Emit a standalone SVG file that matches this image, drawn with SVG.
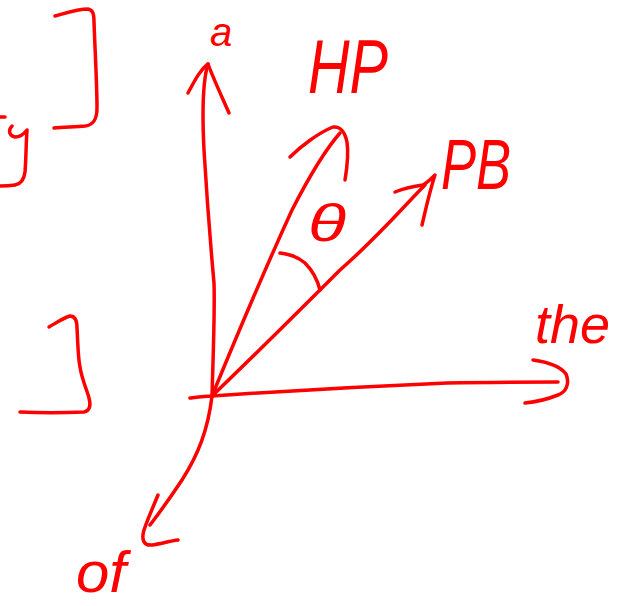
<svg xmlns="http://www.w3.org/2000/svg" width="619" height="606" viewBox="0 0 619 606">
<style>
.s{fill:none;stroke:#ff0000;stroke-width:3.5;stroke-linecap:round;stroke-linejoin:round}
.t{fill:#ff0000;font-family:"Liberation Sans",Arial,sans-serif;font-style:italic}
</style>
<rect width="619" height="606" fill="#ffffff"/>
<g id="brackets">
<path class="s" d="M55,16 C66,13 78,9 88,9 C93,10 94,14 94,22 C95,50 97,85 97,108 C97,120 93,125 85,126 C75,127 63,127 54,128"/>
<path class="s" d="M0,117 L5,117"/>
<path class="s" d="M12,126 C8,130 9,136 15,137 C20,137 24,134 27,130 C26,145 26,160 25,172 C24,180 21,184 15,185 C9,186 4,186 0,186"/>
<path class="s" d="M49,327 C56,323 63,318 70,316 C75,316 77,320 77,328 C78,345 78,358 80,367 C82,380 87,390 89,398 C91,405 90,411 84,412 C62,413 40,413 20,412"/>
</g>
<g id="connectors">
<path class="s" d="M212,396 C213,360 215,310 214,283 C211,250 207,200 204,150 C202,110 203,80 208,64"/>
<path class="s" d="M188,93 C195,80 200,70 208,64 C214,80 222,97 229,113"/>
<path class="s" d="M190,398 C198,397 205,396 212,396 C300,390 400,385 447,383 C490,382 530,382 558,382"/>
<path class="s" d="M533,360 C548,362 560,366 566,374 C570,384 566,392 558,395 C548,399 536,402 525,403"/>
<path class="s" d="M212,396 C235,340 260,280 292,210 C310,175 325,150 340,133"/>
<path class="s" d="M290,157 C300,147 318,133 333,127 C340,126 345,132 347,142 C349,155 347,168 345,180"/>
<path class="s" d="M212,396 C260,350 300,310 340,270 C380,235 405,205 425,185"/>
<path class="s" d="M395,192 C405,188 415,186 423,185 C428,182 432,178 435,175 C430,190 426,208 422,225"/>
<path class="s" d="M212,396 C208,430 198,455 182,480 C172,495 160,512 150,525"/>
<path class="s" d="M158,495 C154,505 148,518 144,530 C141,540 144,546 152,545 C160,544 170,541 178,540"/>
<path class="s" d="M280,253 C290,254 298,257 305,263 C312,270 317,278 320,290"/>
</g>
<g id="label-a"><text class="t" x="210" y="46" font-size="40">a</text></g>
<g id="label-HP"><text class="t" x="308" y="93" font-size="76" textLength="80" lengthAdjust="spacingAndGlyphs">HP</text></g>
<g id="label-theta"><text class="t" x="308" y="241" font-size="52" textLength="38" lengthAdjust="spacingAndGlyphs">θ</text></g>
<g id="label-PB"><text class="t" x="441" y="189" font-size="70" textLength="70" lengthAdjust="spacingAndGlyphs">PB</text></g>
<g id="label-the"><text class="t" x="535" y="343" font-size="54">the</text></g>
<g id="label-of"><text class="t" x="76" y="592" font-size="58" textLength="50" lengthAdjust="spacingAndGlyphs">of</text></g>
</svg>
